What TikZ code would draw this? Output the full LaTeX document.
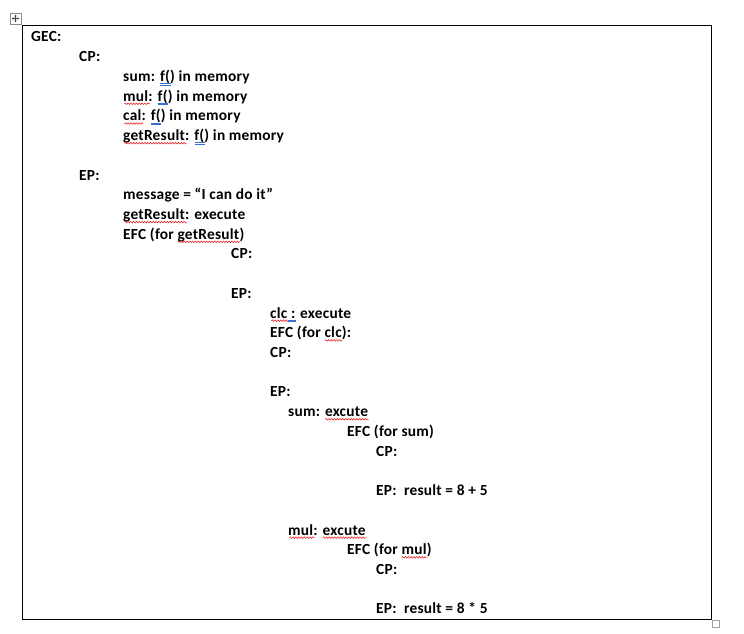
\documentclass[tikz,border=0pt]{standalone}
\usepackage{fontspec}
\setmainfont{Carlito}[LetterSpace=1.5]
\usetikzlibrary{decorations.pathmorphing,arrows.meta}
\newcommand\tf{\fontsize{15.4}{18}\selectfont\bfseries}
\definecolor{sqred}{RGB}{230,30,30}
\definecolor{sqblue}{RGB}{60,110,210}
\definecolor{hgray}{RGB}{140,140,140}
\tikzset{
  t/.style={anchor=base west,inner sep=0pt,font=\tf},
  wave/.style={draw=sqred,line width=0.55pt,decorate,decoration={snake,amplitude=0.8pt,segment length=2.8pt}},
  dbl/.style={draw=sqblue,line width=0.55pt},
  frame/.style={draw=black,line width=0.8pt},
  handlebox/.style={draw=hgray,line width=0.6pt,fill=white},
}
% invisible helper nodes: #1 line node, #2 name, #3 prefix, #4 marked word
\newcommand\mk[4]{%
  \node[t] (#2p) at (#1.base west) {\phantom{#3}};
  \node[t] (#2) at (#2p.base east) {\phantom{#4}};}
\newcommand\wv[4]{\mk{#1}{#2}{#3}{#4}%
  \draw[wave] ([yshift=-2.6pt]#2.base west) -- ([yshift=-2.6pt]#2.base east);}
\newcommand\dl[4]{\mk{#1}{#2}{#3}{#4}%
  \draw[dbl] ([yshift=-1.9pt]#2.base west) -- ([yshift=-1.9pt]#2.base east);
  \draw[dbl] ([yshift=-3.6pt]#2.base west) -- ([yshift=-3.6pt]#2.base east);}
\begin{document}
\begin{tikzpicture}[x=1pt,y=-1pt]
\useasboundingbox (0,0) rectangle (744,634);
% frame
\draw[frame] (22.5,25.5) rectangle (711.5,619.5);
% move handle
\draw[handlebox] (10,13) rectangle (21,24);
\coordinate (hc) at (15.5,18.5);
\foreach \d in {(3.8,0),(-3.8,0),(0,3.8),(0,-3.8)}
  \draw[black!75,line width=0.5pt,-{Latex[length=1.6pt,width=2.4pt]}] (hc) -- ++\d;
% resize handle
\draw[draw=hgray!80,line width=0.6pt] (712.5,620.5) rectangle (719.5,627.5);
% text lines
\def\s{19.72}
\node[t] (gec)   at (31,42) {GEC:};
\node[t] (cp1)   at (79,42+1*\s) {CP:};
\node[t] (sum1)  at (123,42+2*\s) {sum: f() in memory};
\node[t] (mul1)  at (123,42+3*\s) {mul: f() in memory};
\node[t] (cal1)  at (123,42+4*\s) {cal: f() in memory};
\node[t] (gr1)   at (123,42+5*\s) {getResult: f() in memory};
\node[t] (ep1)   at (79,42+7*\s) {EP:};
\node[t] (msg)   at (123,42+8*\s) {message = “I can do it”};
\node[t] (grx)   at (123,42+9*\s) {getResult: execute};
\node[t] (efc1)  at (123,42+10*\s) {EFC (for getResult)};
\node[t] (cp2)   at (231,42+11*\s) {CP:};
\node[t] (ep2)   at (231,42+13*\s) {EP:};
\node[t] (clcx)  at (270,42+14*\s) {clc : execute};
\node[t] (efc2)  at (270,42+15*\s) {EFC (for clc):};
\node[t] (cp3)   at (270,42+16*\s) {CP:};
\node[t] (ep3)   at (270,42+18*\s) {EP:};
\node[t] (sumx)  at (288,42+19*\s) {sum: excute};
\node[t] (efc3)  at (347,42+20*\s) {EFC (for sum)};
\node[t] (cp4)   at (376,42+21*\s) {CP:};
\node[t] (ep4)   at (376,42+23*\s) {EP:\ \ result = 8 + 5};
\node[t] (mulx)  at (288,42+25*\s) {mul: excute};
\node[t] (efc4)  at (347,42+26*\s) {EFC (for mul)};
\node[t] (cp5)   at (376,42+27*\s) {CP:};
\node[t] (ep5)   at (376,42+29*\s) {EP:\ \ result = 8 * 5};
% proofing marks
\dl{sum1}{ma}{sum: }{f(}
\dl{mul1}{mb}{mul: }{f(}
\dl{cal1}{mc}{cal: }{f(}
\dl{gr1}{md}{getResult: }{f(}
\wv{mul1}{me}{}{mul}
\wv{cal1}{mf}{}{cal}
\wv{gr1}{mg}{}{getResult}
\wv{grx}{mh}{}{getResult}
\wv{efc1}{mi}{EFC (for }{getResult}
\wv{clcx}{mj}{}{clc}
\dl{clcx}{mk}{clc}{\ :}
\wv{efc2}{ml}{EFC (for }{clc}
\wv{sumx}{mm}{sum: }{excute}
\wv{mulx}{mn}{}{mul}
\wv{mulx}{mo}{mul: }{excute}
\wv{efc4}{mq}{EFC (for }{mul}
\end{tikzpicture}
\end{document}
